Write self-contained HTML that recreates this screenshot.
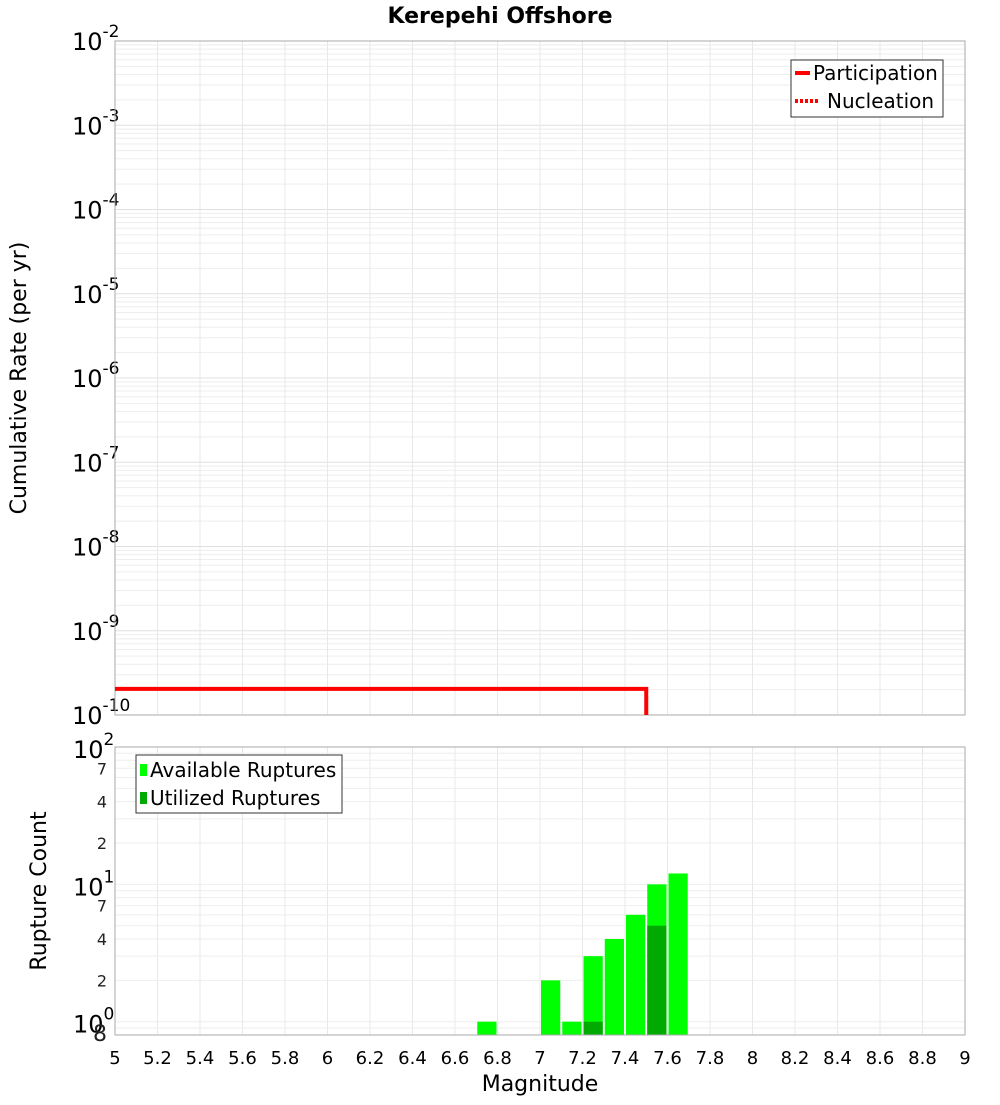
<!DOCTYPE html>
<html><head><meta charset="utf-8"><style>
body{margin:0;background:#fff}
svg{font-family:"DejaVu Sans","Liberation Sans",sans-serif}
</style></head><body>
<svg id="chart" width="1000" height="1100" xmlns="http://www.w3.org/2000/svg">
<text x="500" y="23" text-anchor="middle" font-size="22" font-weight="bold">Kerepehi Offshore</text>
<g id="topPlot"></g>
<g id="botPlot"></g>
<text transform="translate(26,378) rotate(-90)" text-anchor="middle" font-size="22">Cumulative Rate (per yr)</text>
<text transform="translate(46,891) rotate(-90)" text-anchor="middle" font-size="22">Rupture Count</text>
<text x="540" y="1091" text-anchor="middle" font-size="22">Magnitude</text>
<g>
<rect x="791" y="60" width="152" height="57" fill="#fff" stroke="#333"/>
<line x1="795" y1="73" x2="810" y2="73" stroke="red" stroke-width="4"/>
<text x="813" y="80" font-size="20">Participation</text>
<line x1="795" y1="101" x2="820" y2="101" stroke="red" stroke-width="4" stroke-dasharray="3,2"/>
<text x="827" y="108" font-size="20">Nucleation</text>
</g>
<g>
<rect x="136" y="755" width="206" height="58" fill="#fff" stroke="#333"/>
<rect x="140" y="764" width="7" height="12" fill="#00ff00"/>
<text x="150" y="777" font-size="20">Available Ruptures</text>
<rect x="140" y="792" width="7" height="12" fill="#00aa00"/>
<text x="150" y="805" font-size="20">Utilized Ruptures</text>
</g>
</svg>
<script>
const xTicks=[5,5.2,5.4,5.6,5.8,6,6.2,6.4,6.6,6.8,7,7.2,7.4,7.6,7.8,8,8.2,8.4,8.6,8.8,9];
const rateMags=[5,7.5,7.5];
const rateVals=[2.04e-10,2.04e-10,1e-10];
const binMags=[6.75,7.05,7.15,7.25,7.35,7.45,7.55,7.65];
const availCounts=[1,2,1,3,4,6,10,12];
const usedMags=[7.25,7.55];
const usedCounts=[1,5];
const NS="http://www.w3.org/2000/svg";
const X0=115,X1=965;
const xs=m=>X0+(m-5)/4*(X1-X0);
const T0=41,T1=715,yt=v=>T1-(Math.log10(v)+10)/8*(T1-T0);
const B0=747,B1=1035,lb0=Math.log10(0.8),lb1=2,yb=v=>B1-(Math.log10(v)-lb0)/(lb1-lb0)*(B1-B0);
function mk(p,t,a){const e=document.createElementNS(NS,t);for(const k in a)e.setAttribute(k,a[k]);p.appendChild(e);return e;}
const topG=document.getElementById('topPlot'),botG=document.getElementById('botPlot');
for(let d=-10;d<-2;d++)for(let k=1;k<10;k++){const y=yt(k*Math.pow(10,d));const g=mk(topG,'line',{x1:X0,x2:X1,y1:y,y2:y,stroke:k==1?'#e0e0e0':'#eeeeee'});}
xTicks.forEach(m=>{const g=mk(topG,'line',{x1:xs(m),x2:xs(m),y1:T0,y2:T1,stroke:'#e8e8e8'});
const g2=mk(botG,'line',{x1:xs(m),x2:xs(m),y1:B0,y2:B1,stroke:'#e8e8e8'});
const t=mk(botG,'text',{x:xs(m),y:1064,'text-anchor':'middle','font-size':18});t.textContent=String(m);});
for(let d=-10;d<=-2;d++){const y=yt(Math.pow(10,d));const t=mk(topG,'text',{x:72,y:y+9,'font-size':24});t.innerHTML='10<tspan font-size="17" dy="-13">'+d+'</tspan>';}
mk(topG,'rect',{x:X0,y:T0,width:X1-X0,height:T1-T0,fill:'none',stroke:'#aaa'});
let pts=rateMags.map((m,i)=>xs(m)+','+yt(rateVals[i])).join(' ');
const pl=mk(topG,'polyline',{points:pts,fill:'none',stroke:'red','stroke-width':4});

[0.9,1,2,3,4,5,6,7,8,9,10,20,30,40,50,60,70,80,90,100].forEach(v=>{const y=yb(v);const g=mk(botG,'line',{x1:X0,x2:X1,y1:y,y2:y,stroke:'#eeeeee'});});
[[1,0],[10,1],[100,2]].forEach(([v,e])=>{const t=mk(botG,'text',{x:73,y:yb(v)+11,'font-size':24});t.innerHTML='10<tspan font-size="17" dy="-13">'+e+'</tspan>';});
[[2,'2'],[4,'4'],[7,'7'],[20,'2'],[40,'4'],[70,'7'],[0.8,'8']].forEach(([v,s])=>{const t=mk(botG,'text',{x:107,y:yb(v)+6,'font-size':v==0.8?22:16,'text-anchor':'end',fill:'#222'});t.textContent=s;});
const bw=(xs(5.1)-xs(5))-2;
binMags.forEach((m,i)=>{const y=yb(availCounts[i]);const r=mk(botG,'rect',{x:xs(m)-bw/2,y:y,width:bw,height:B1-y,fill:'#00ff00'});});
usedMags.forEach((m,i)=>{const y=yb(usedCounts[i]);const r=mk(botG,'rect',{x:xs(m)-bw/2,y:y,width:bw,height:B1-y,fill:'#00aa00'});});
mk(botG,'rect',{x:X0,y:B0,width:X1-X0,height:B1-B0,fill:'none',stroke:'#aaa'});
</script>
</body></html>
